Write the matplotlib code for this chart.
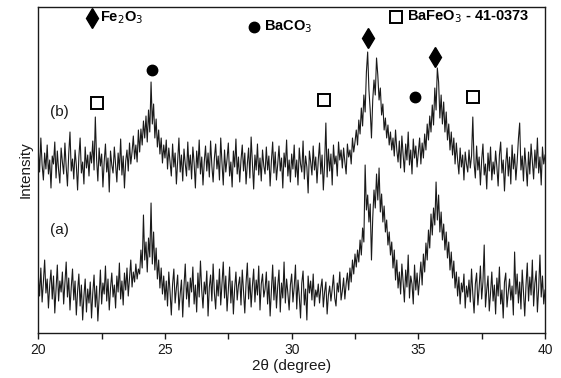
"""XRD patterns (a) and (b), 2theta 20-40 deg, phase markers for Fe2O3 / BaCO3 / BaFeO3."""
import matplotlib
matplotlib.use("Agg")
import matplotlib.pyplot as plt
import numpy as np

plt.rcParams["font.family"] = ["Liberation Sans", "DejaVu Sans"]

# 2theta grid: 20.00 .. 40.00, step 0.05 deg (one row below = one degree)
TWO_THETA = np.linspace(20.0, 40.0, 401)

# pattern (b), intensity in arbitrary units (already offset above (a))
PATTERN_B = [
    250, 228, 262, 235, 220, 247, 231, 255, 226, 240, 212, 244, 236, 258, 222, 249, 230, 217, 252, 238,
    226, 257, 233, 214, 246, 268, 229, 241, 221, 250, 235, 210, 243, 262, 227, 238, 216, 253, 232, 245,
    224, 248, 237, 259, 230, 283, 241, 219, 252, 234, 246, 213, 238, 256, 228, 242, 208, 249, 235, 227,
    253, 236, 218, 247, 230, 261, 225, 244, 212, 239, 250, 229, 257, 236, 248, 264, 241, 255, 238, 270,
    248, 271, 255, 279, 262, 284, 258, 290, 268, 318, 276, 296, 262, 281, 253, 270, 246, 262, 237, 255,
    242, 260, 231, 252, 238, 224, 256, 233, 247, 216, 240, 262, 228, 245, 219, 251, 236, 224, 258, 230,
    245, 221, 253, 237, 212, 249, 232, 260, 226, 243, 215, 238, 254, 229, 247, 223, 259, 234, 218, 242,
    256, 231, 244, 220, 262, 237, 215, 250, 228, 241, 257, 224, 238, 213, 249, 233, 261, 226, 243, 218,
    240, 255, 229, 247, 216, 236, 252, 222, 263, 238, 211, 245, 230, 256, 225, 242, 219, 250, 234, 226,
    253, 230, 244, 214, 239, 258, 227, 248, 220, 236, 254, 229, 242, 212, 247, 233, 260, 224, 240, 218,
    246, 231, 255, 223, 240, 215, 252, 236, 228, 259, 221, 244, 233, 207, 249, 238, 225, 254, 230, 243,
    217, 240, 257, 226, 245, 210, 236, 277, 223, 251, 229, 246, 215, 255, 236, 244, 224, 258, 240, 250,
    232, 252, 238, 226, 256, 243, 250, 236, 262, 248, 258, 270, 255, 280, 266, 292, 274, 305, 288, 328,
    348, 310, 290, 262, 300, 320, 305, 342, 325, 300, 312, 285, 296, 270, 282, 262, 275, 255, 268, 250,
    262, 244, 270, 250, 238, 259, 232, 264, 245, 228, 256, 240, 268, 235, 250, 226, 261, 242, 254, 233,
    248, 262, 236, 257, 242, 266, 250, 276, 260, 284, 268, 295, 275, 312, 290, 332, 318, 282, 305, 276,
    298, 268, 288, 260, 276, 250, 268, 245, 262, 236, 257, 240, 226, 252, 233, 245, 220, 248, 236, 228,
    250, 232, 244, 283, 237, 222, 254, 230, 243, 215, 240, 256, 225, 236, 211, 247, 229, 253, 220, 238,
    226, 249, 233, 214, 245, 258, 227, 240, 209, 236, 252, 224, 243, 216, 255, 231, 246, 220, 238, 261,
    277, 230, 244, 219, 252, 234, 214, 248, 226, 256, 238, 221, 250, 232, 262, 227, 243, 215, 253, 236,
    245,
]

# pattern (a)
PATTERN_A = [
    125, 104, 132, 98, 118, 140, 107, 121, 92, 115, 130, 101, 124, 87, 112, 135, 99, 119, 108, 128,
    96, 117, 138, 103, 122, 90, 113, 131, 100, 119, 85, 109, 126, 94, 115, 80, 104, 121, 88, 111,
    97, 118, 82, 107, 125, 93, 114, 79, 102, 130, 96, 117, 106, 134, 99, 121, 90, 112, 127, 103,
    115, 92, 124, 108, 137, 101, 119, 95, 127, 110, 132, 104, 122, 140, 113, 128, 118, 136, 121, 131,
    126, 150, 132, 185, 140, 158, 128, 162, 143, 197, 136, 168, 130, 152, 121, 140, 112, 132, 106, 124,
    100, 119, 94, 128, 108, 85, 116, 131, 97, 112, 125, 90, 106, 120, 83, 114, 136, 101, 118, 93,
    122, 108, 133, 96, 115, 88, 127, 103, 139, 110, 92, 118, 106, 129, 84, 113, 125, 99, 136, 107,
    91, 120, 104, 131, 95, 116, 138, 102, 124, 89, 110, 133, 97, 119, 86, 112, 128, 100, 115, 123,
    95, 130, 108, 87, 117, 137, 101, 122, 93, 114, 131, 98, 120, 105, 134, 90, 116, 126, 103, 111,
    128, 96, 119, 84, 109, 135, 100, 123, 92, 114, 130, 88, 117, 102, 138, 97, 121, 107, 90, 115,
    126, 98, 113, 135, 91, 120, 104, 82, 117, 129, 95, 111, 80, 124, 107, 119, 100, 126, 94, 110,
    103, 116, 97, 112, 121, 93, 108, 118, 86, 105, 114, 99, 111, 125, 102, 94, 117, 108, 128, 100,
    109, 122, 101, 116, 127, 110, 132, 118, 140, 126, 146, 133, 150, 138, 160, 145, 172, 158, 235, 190,
    205, 178, 196, 140, 182, 210, 192, 226, 200, 232, 188, 206, 178, 194, 168, 180, 155, 168, 145, 158,
    132, 150, 120, 140, 112, 128, 106, 136, 118, 98, 130, 113, 145, 102, 124, 116, 96, 135, 110, 127,
    105, 122, 138, 115, 146, 128, 157, 140, 170, 152, 186, 165, 192, 175, 218, 180, 205, 168, 188, 160,
    176, 150, 168, 142, 158, 130, 148, 122, 139, 112, 128, 104, 123, 96, 117, 108, 126, 92, 114, 103,
    120, 98, 131, 106, 87, 116, 127, 95, 112, 134, 101, 118, 155, 93, 110, 124, 89, 107, 128, 99,
    115, 86, 122, 104, 133, 96, 110, 82, 118, 127, 93, 108, 121, 100, 114, 85, 148, 106, 126, 97,
    118, 91, 130, 108, 84, 115, 137, 99, 123, 105, 140, 94, 117, 129, 88, 112, 145, 103, 124, 96,
    110,
]

# phase markers above the peaks: (2theta, height)
FE2O3_MARKS = [(33.02, 362), (35.65, 343)]
BACO3_MARKS = [(24.49, 330), (34.86, 303)]
BAFEO3_MARKS = [(22.32, 297), (31.28, 300), (37.15, 303)]

INK = "#1a1a1a"

fig = plt.figure(figsize=(5.61, 3.78), dpi=100)
ax = fig.add_axes([0.0683, 0.119, 0.9032, 0.8625])

ax.plot(TWO_THETA, PATTERN_B, color=INK, linewidth=0.8)
ax.plot(TWO_THETA, PATTERN_A, color=INK, linewidth=0.8)

mk = dict(color="black", linestyle="none", clip_on=False)
diamond = dict(marker="d", markersize=10, **mk)
dot = dict(marker="o", markersize=7.5, **mk)
square = dict(marker="s", markersize=8.5, markerfacecolor="white", markeredgewidth=1.4, **mk)

ax.plot(*zip(*FE2O3_MARKS), **diamond)
ax.plot(*zip(*BACO3_MARKS), **dot)
ax.plot(*zip(*BAFEO3_MARKS), **square)

ax.text(20.85, 288, "(b)", fontsize=11, ha="center", va="center", color=INK)
ax.text(20.85, 170, "(a)", fontsize=11, ha="center", va="center", color=INK)

# legend row along the top
ax.plot([22.1], [382], **diamond)
ax.text(22.45, 382, r"Fe$_2$O$_3$", fontsize=10.5, fontweight="bold", va="center")
ax.plot([28.5], [373], **dot)
ax.text(28.9, 373, r"BaCO$_3$", fontsize=10.5, fontweight="bold", va="center")
ax.plot([34.1], [383], **square)
ax.text(34.55, 383, r"BaFeO$_3$ - 41-0373", fontsize=10.5, fontweight="bold", va="center")

ax.set_xlim(20, 40)
ax.set_ylim(67, 393)
ax.set_xticks([20, 25, 30, 35, 40])
ax.set_xticks([22.5, 27.5, 32.5, 37.5], minor=True)
ax.tick_params(axis="x", which="both", direction="out", length=4, width=1,
               labelsize=10, color=INK, labelcolor=INK)
ax.set_yticks([])
for s in ax.spines.values():
    s.set_color(INK)
    s.set_linewidth(1.0)

ax.set_xlabel("2\u03b8 (degree)", fontsize=11, labelpad=1, color=INK)
ax.set_ylabel("Intensity", fontsize=11, labelpad=4, color=INK)

fig.savefig("out.png", dpi=100)
